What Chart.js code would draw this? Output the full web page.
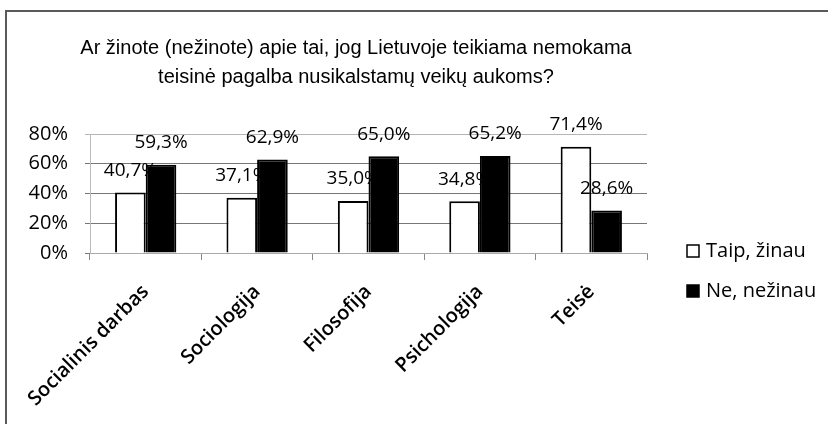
<!DOCTYPE html>
<html>
<head>
<meta charset="utf-8">
<script src="https://cdn.jsdelivr.net/npm/chart.js@4"></script>
<style>
  html, body { margin: 0; padding: 0; background: #fff; }
  #wrap { width: 828px; height: 424px; position: relative; }
</style>
</head>
<body>
<div id="wrap"><canvas id="chart" width="828" height="424"></canvas></div>
<script>
// Data
const categories = ['Socialinis darbas', 'Sociologija', 'Filosofija', 'Psichologija', 'Teisė'];
const taipValues = [40.7, 37.1, 35.0, 34.8, 71.4];
const neValues = [59.3, 62.9, 65.0, 65.2, 28.6];
const seriesNames = ['Taip, žinau', 'Ne, nežinau'];
const titleLines = ['Ar žinote (nežinote) apie tai, jog Lietuvoje teikiama nemokama',
                    'teisinė pagalba nusikalstamų veikų aukoms?'];

const labelFont = '19px "Open Sans"';

function drawLabels(chart, index) {
  const ctx = chart.ctx;
  const ds = chart.data.datasets[index];
  const meta = chart.getDatasetMeta(index);
  ctx.save();
  ctx.font = labelFont;
  ctx.fillStyle = '#000';
  ctx.textAlign = 'center';
  ctx.textBaseline = 'middle';
  meta.data.forEach((bar, i) => {
    ctx.fillText(ds.data[i].toFixed(1).replace('.', ',') + '%', bar.x, bar.y - 22);
  });
  ctx.restore();
}

// white labels go under the bars, black labels on top
const valueLabels = {
  id: 'valueLabels',
  beforeDatasetsDraw(chart) { drawLabels(chart, 0); },
  afterDatasetsDraw(chart) { drawLabels(chart, 1); }
};

// Frame, title and legend
const decor = {
  id: 'decor',
  beforeDraw(chart) {
    const ctx = chart.ctx;
    ctx.save();
    ctx.strokeStyle = '#5a5a5a';
    ctx.lineWidth = 2;
    ctx.beginPath();
    ctx.moveTo(6, 424);
    ctx.lineTo(6, 11);
    ctx.lineTo(828, 11);
    ctx.stroke();
    ctx.restore();
  },
  afterDraw(chart) {
    const ctx = chart.ctx;
    ctx.save();
    ctx.fillStyle = '#000';
    ctx.font = '20px "Liberation Sans"';
    ctx.textAlign = 'center';
    ctx.textBaseline = 'middle';
    ctx.fillText(titleLines[0], 356, 48);
    ctx.fillText(titleLines[1], 356, 77);

    // legend
    ctx.font = '20px "Open Sans"';
    ctx.textAlign = 'left';
    const items = [{ y: 251, fill: '#fff' }, { y: 291, fill: '#000' }];
    items.forEach((it, i) => {
      ctx.fillStyle = it.fill;
      ctx.fillRect(687, it.y - 6, 12, 12);
      ctx.strokeStyle = '#000';
      ctx.lineWidth = 1.5;
      ctx.strokeRect(687, it.y - 6, 12, 12);
      ctx.fillStyle = '#000';
      ctx.fillText(chart.data.datasets[i].label, 706, it.y);
    });
    ctx.restore();
  }
};

new Chart(document.getElementById('chart'), {
  type: 'bar',
  data: {
    labels: categories,
    datasets: [
      {
        label: seriesNames[0],
        data: taipValues,
        backgroundColor: '#fff',
        borderColor: '#000',
        borderWidth: 2
      },
      {
        label: seriesNames[1],
        data: neValues,
        backgroundColor: '#000',
        borderColor: '#000',
        borderWidth: 2
      }
    ]
  },
  options: {
    responsive: false,
    animation: false,
    devicePixelRatio: 1,
    layout: { padding: { top: 134, right: 181, left: 0, bottom: 0 } },
    categoryPercentage: 0.55,
    barPercentage: 1.0,
    plugins: {
      legend: { display: false },
      title: { display: false },
      tooltip: { enabled: false }
    },
    scales: {
      x: {
        grid: {
          drawOnChartArea: false,
          drawTicks: true,
          tickLength: 7,
          color: '#888'
        },
        border: { color: '#aaa' },
        ticks: {
          color: '#000',
          font: { family: 'Open Sans', size: 20, weight: '600' },
          minRotation: 45,
          maxRotation: 45,
          padding: 20
        },
        afterFit(scale) { scale.height = 171; }
      },
      y: {
        min: 0,
        max: 80,
        grid: {
          color: ctx => (ctx.tick && ctx.tick.value === 80) ? '#b5b5b5' : '#777',
          tickLength: 5
        },
        border: { color: '#bbb' },
        ticks: {
          stepSize: 20,
          color: '#000',
          font: { family: 'Open Sans', size: 20 },
          padding: 17,
          callback: v => v + '%'
        },
        afterFit(scale) { scale.width = 90; }
      }
    }
  },
  plugins: [valueLabels, decor]
});
</script>
</body>
</html>
